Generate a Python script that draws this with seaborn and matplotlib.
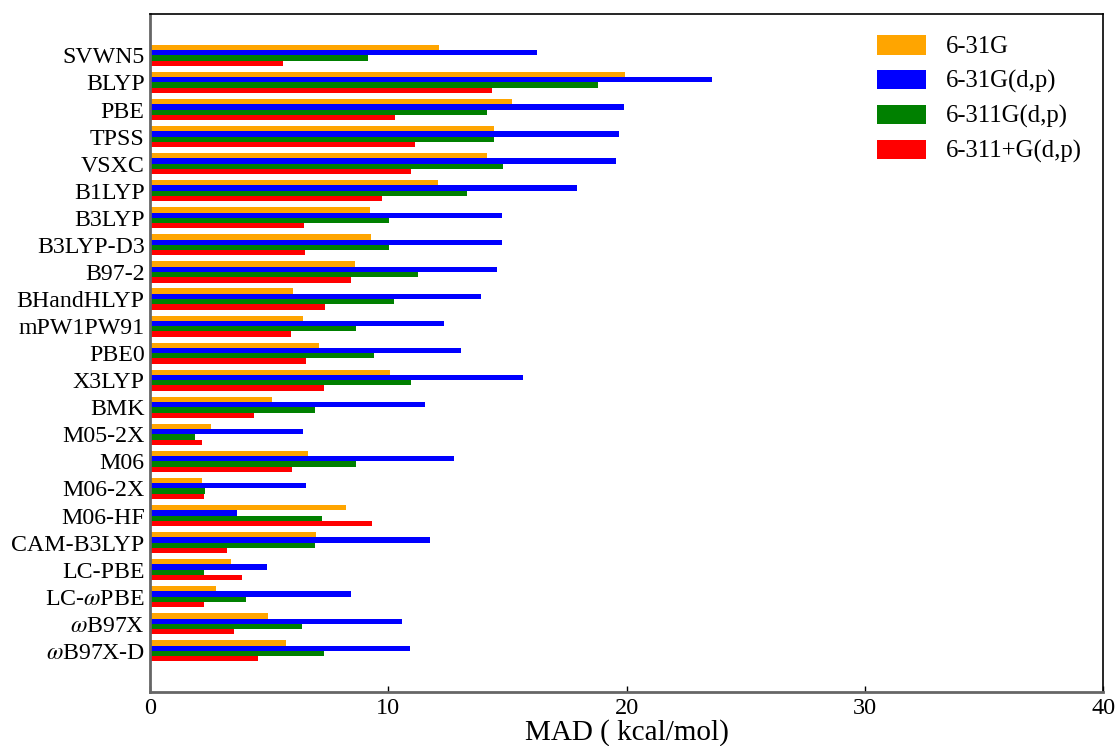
import matplotlib
matplotlib.use("Agg")
import matplotlib.pyplot as plt
import seaborn as sns
import pandas as pd

methods = ["SVWN5", "BLYP", "PBE", "TPSS", "VSXC", "B1LYP", "B3LYP", "B3LYP-D3",
           "B97-2", "BHandHLYP", "mPW1PW91", "PBE0", "X3LYP", "BMK", "M05-2X", "M06",
           "M06-2X", "M06-HF", "CAM-B3LYP", "LC-PBE", r"LC-$\omega$PBE", r"$\omega$B97X",
           r"$\omega$B97X-D"]
basis_sets = ["6-31G", "6-31G(d,p)", "6-311G(d,p)", "6-311+G(d,p)"]

mad_631g = [12.14, 19.92, 15.17, 14.45, 14.16, 12.10, 9.24, 9.29, 8.61, 6.01, 6.43, 7.10,
            10.08, 5.13, 2.56, 6.64, 2.18, 8.24, 6.97, 3.40, 2.77, 4.96, 5.71]
mad_631gdp = [16.22, 23.57, 19.87, 19.66, 19.54, 17.90, 14.75, 14.79, 14.54, 13.87, 12.35, 13.03,
              15.67, 11.55, 6.43, 12.77, 6.55, 3.66, 11.76, 4.92, 8.45, 10.59, 10.92]
mad_6311gdp = [9.16, 18.78, 14.16, 14.45, 14.83, 13.28, 10.04, 10.04, 11.26, 10.25, 8.66, 9.41,
               10.97, 6.93, 1.89, 8.66, 2.31, 7.23, 6.93, 2.27, 4.03, 6.39, 7.31]
mad_6311pgdp = [5.59, 14.33, 10.29, 11.13, 10.97, 9.75, 6.47, 6.51, 8.45, 7.35, 5.92, 6.55,
                7.31, 4.37, 2.18, 5.97, 2.27, 9.33, 3.24, 3.87, 2.27, 3.53, 4.54]

colors = ["#FFA500", "#0000FF", "#008000", "#FF0000"]

series = [mad_631g, mad_631gdp, mad_6311gdp, mad_6311pgdp]
rows = []
for b, vals in zip(basis_sets, series):
    for m, v in zip(methods, vals):
        rows.append({"method": m, "basis": b, "MAD": v})
df = pd.DataFrame(rows)

sns.set_style("white")
plt.rcParams["font.family"] = ["Liberation Serif", "DejaVu Serif"]
plt.rcParams["mathtext.fontset"] = "stix"

fig = plt.figure(figsize=(11.2, 7.46), dpi=100)
ax = fig.add_axes([0.134, 0.0724, 0.851, 0.9088])

sns.barplot(data=df, y="method", x="MAD", hue="basis", order=methods,
            hue_order=basis_sets, palette=colors, saturation=1, orient="h",
            width=0.78, linewidth=0, ax=ax, errorbar=None)

ax.set_xlim(0, 40)
ax.set_ylim(len(methods) - 1 + 1.52, -1.53)
ax.set_xticks([0, 10, 20, 30, 40])
ax.tick_params(axis="x", direction="in", length=4, width=1, color="black",
               labelsize=17.5, bottom=True, top=False, pad=4, labelcolor="black")
ax.tick_params(axis="y", direction="in", length=4, width=1, color="black",
               labelsize=17.2, left=True, right=False, pad=4, labelcolor="black")
ax.set_xlabel("MAD ( kcal/mol)", fontsize=21, labelpad=0.5, color="black")
ax.set_ylabel("")

for s in ["left", "bottom"]:
    ax.spines[s].set_color("#666666")
    ax.spines[s].set_linewidth(2)
for s in ["top", "right"]:
    ax.spines[s].set_color("black")
    ax.spines[s].set_linewidth(1.2)

leg = ax.legend(loc="upper right", frameon=False, fontsize=17.8, handlelength=2.0,
                handleheight=0.85, handletextpad=0.8, labelspacing=0.45,
                borderaxespad=0.45, bbox_to_anchor=(1.0, 1.0))
for t in leg.get_texts():
    t.set_color("black")

fig.savefig("out.png", dpi=100)
